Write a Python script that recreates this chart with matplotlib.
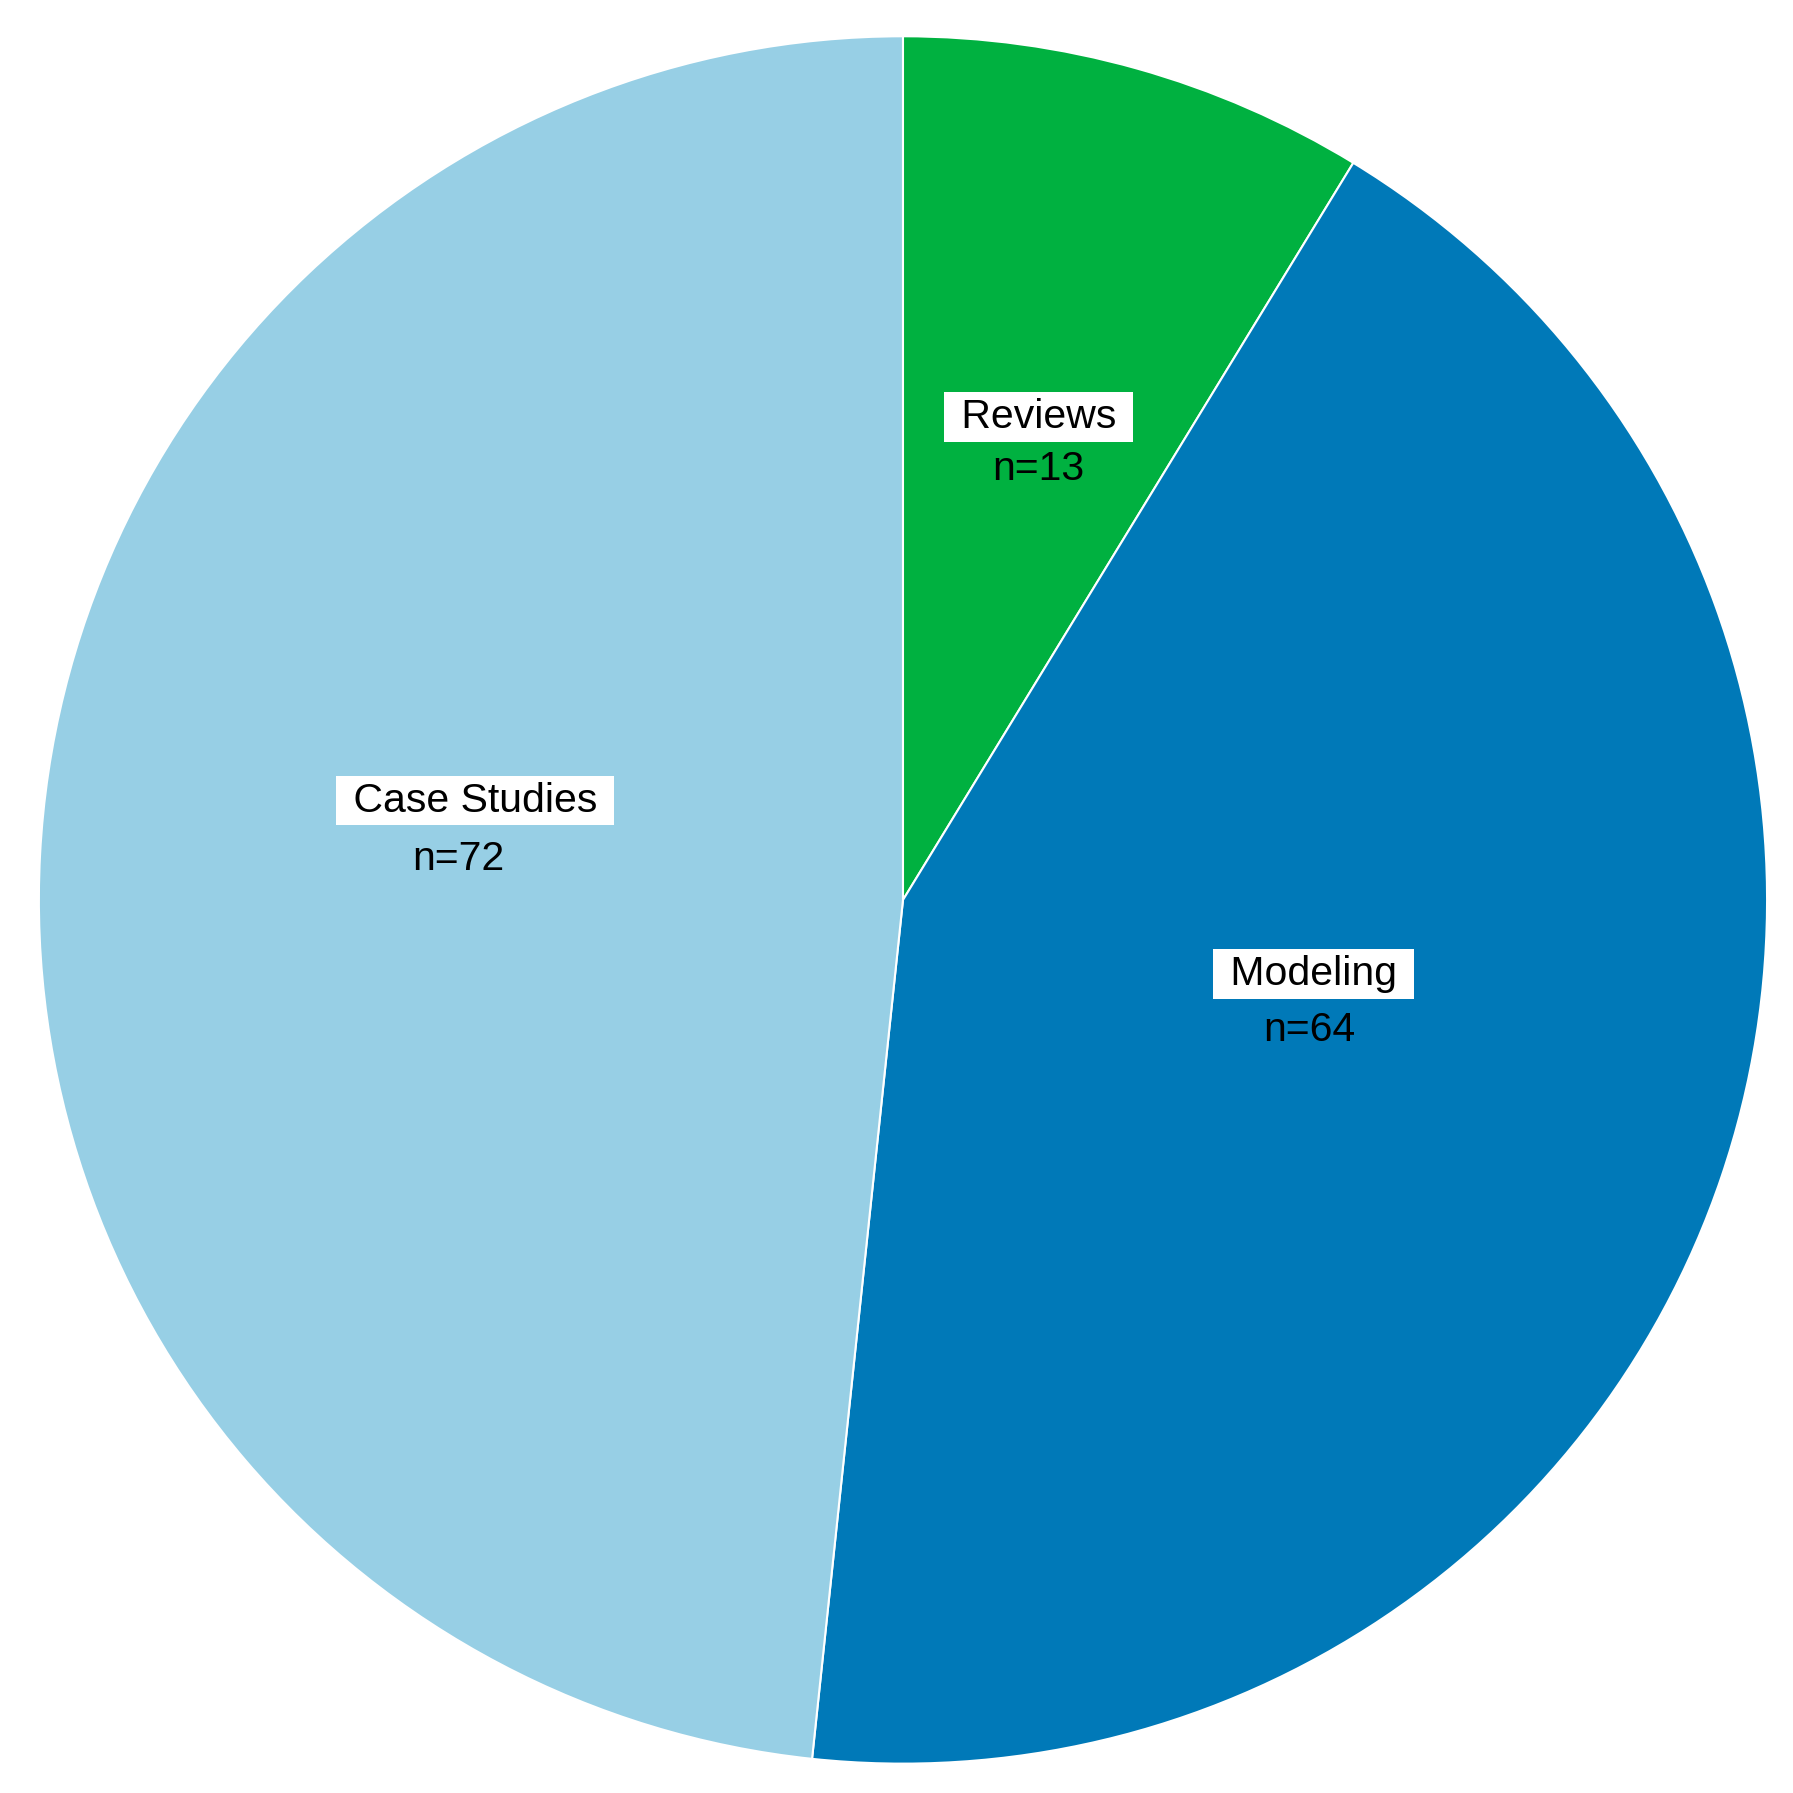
import matplotlib.pyplot as plt

# slice data, clockwise from 12 o'clock
categories = ["Reviews", "Modeling", "Case Studies"]
counts = [13, 64, 72]
colors = ["#00B140", "#0079B8", "#97CFE5"]

# label anchor points in pie units (radius = 1)
box_pos = [(0.157, 0.559), (0.475, -0.086), (-0.495, 0.115)]
n_pos = [(0.157, 0.499), (0.470, -0.150), (-0.514, 0.047)]

plt.rcParams['font.family'] = ['Liberation Sans', 'DejaVu Sans']

fig = plt.figure(figsize=(17.93, 17.93), dpi=100)
ax = fig.add_axes([0, 0, 1, 1])

ax.pie(counts, colors=colors, startangle=90, counterclock=False,
       radius=1.0, wedgeprops=dict(edgecolor="white", linewidth=1.5))

for name, n, bp, npos in zip(categories, counts, box_pos, n_pos):
    ax.text(bp[0], bp[1], " " + name + " ", ha="center", va="center",
            fontsize=29.5, color="black",
            bbox=dict(boxstyle="square,pad=0.14", facecolor="white", edgecolor="none"))
    ax.text(npos[0], npos[1], "n={}".format(n), ha="center", va="center",
            fontsize=29.5, color="black")

# place the circle where it sits in the original image
ax.set_xlim(-1.045, 1.030)
ax.set_ylim(-1.034, 1.042)
ax.set_aspect("auto")
ax.axis("off")

fig.savefig("out.png", dpi=100, facecolor="white")
